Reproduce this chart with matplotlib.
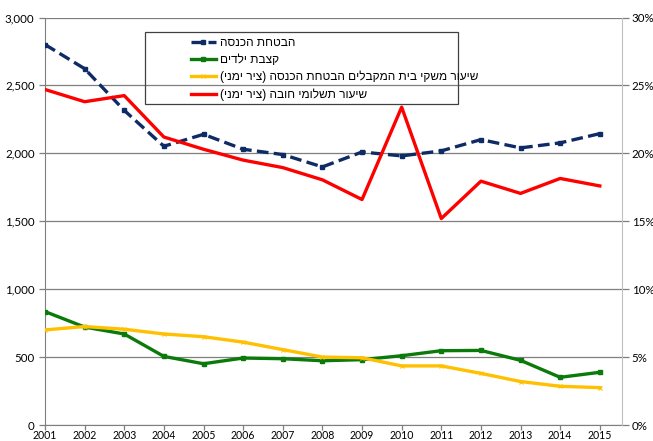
import numpy as np
import matplotlib
matplotlib.use('Agg')
import matplotlib.pyplot as plt
from matplotlib.ticker import FuncFormatter, PercentFormatter
from matplotlib.patches import Rectangle

# data
years = list(range(2001, 2016))
income_support = [2801, 2623, 2316, 2052, 2140, 2030, 1991, 1900, 2010, 1981, 2018, 2101, 2040, 2077, 2145]
child_allowance = [835, 721, 670, 505, 451, 493, 488, 473, 481, 510, 547, 549, 476, 351, 388]
share_households = [7.0, 7.25, 7.05, 6.7, 6.5, 6.1, 5.55, 5.0, 4.95, 4.35, 4.35, 3.8, 3.2, 2.85, 2.75]
share_mandatory = [24.7, 23.8, 24.25, 21.2, 20.3, 19.5, 18.95, 18.05, 16.6, 23.4, 15.2, 17.95, 17.05, 18.15, 17.6]

labels = ['הבטחת הכנסה',
          'קצבת ילדים',
          'שיעור משקי בית המקבלים הבטחת הכנסה (ציר ימני)',
          'שיעור תשלומי חובה (ציר ימני)']


def heb(s):
    # matplotlib has no bidi support: flip to visual order, mirror brackets
    return s[::-1].translate(str.maketrans('()', ')('))


plt.rcParams['font.family'] = ['Liberation Sans', 'DejaVu Sans']

W, H = 653, 441
fig = plt.figure(figsize=(W / 100, H / 100), dpi=100)
ax = fig.add_axes([45 / W, 1 - 425 / H, (622 - 45) / W, (425 - 17.5) / H])
ax2 = ax.twinx()

l1, = ax.plot(years, income_support, color='#0F2B66', lw=2.4, ls=(0, (3.5, 1.6)),
              marker='s', ms=3.5, zorder=3)
l2, = ax.plot(years, child_allowance, color='#0A7A0A', lw=2.4, marker='s', ms=3.5, zorder=3)
l3, = ax2.plot(years, share_households, color='#FFC000', lw=2.4, marker='x', ms=3, mew=0.8)
l4, = ax2.plot(years, share_mandatory, color='#FF0000', lw=2.4)

ax.set_xlim(2001, 2015.56)
ax.set_ylim(0, 3000)
ax2.set_ylim(0, 30)
ax.set_xticks(years)
ax.set_yticks(np.arange(0, 3001, 500))
ax2.set_yticks(np.arange(0, 31, 5))
ax.yaxis.set_major_formatter(FuncFormatter(lambda v, p: f'{v:,.0f}'))
ax2.yaxis.set_major_formatter(PercentFormatter(decimals=0))

ax.grid(axis='y', color='#7F7F7F', lw=0.9)
ax.set_axisbelow(True)
for a in (ax, ax2):
    a.spines['top'].set_visible(False)
ax.spines['left'].set_color('#7F7F7F')
ax.spines['bottom'].set_color('#7F7F7F')
ax.spines['right'].set_visible(False)
ax2.spines['left'].set_visible(False)
ax2.spines['bottom'].set_visible(False)
ax2.spines['right'].set_color('#BFBFBF')

ax.tick_params(axis='x', colors='#7F7F7F', length=3.5, width=0.9, labelcolor='black', pad=0)
ax.tick_params(axis='y', colors='#7F7F7F', length=4, width=0.9, labelcolor='black')
ax2.tick_params(axis='y', colors='#7F7F7F', length=5, width=0.9, labelcolor='black', pad=2)
for t in ax.get_xticklabels():
    t.set_fontfamily('Lato')
    t.set_fontsize(7.6)
for t in ax.get_yticklabels() + ax2.get_yticklabels():
    t.set_fontfamily('Lato')
    t.set_fontsize(8.3)

# legend box, entries right-aligned inside it
fig.patches.append(Rectangle((145 / W, 1 - 104 / H), (458 - 145) / W, 72 / H,
                             transform=fig.transFigure, fill=False, ec='#404040', lw=0.9))
fig.legend([l1, l2, l3, l4], [heb(s) for s in labels], loc='upper left',
           bbox_to_anchor=(180 / W, 1 - 26 / H), frameon=False, fontsize=8.6,
           handlelength=2.1, handletextpad=0.35, labelspacing=0.42)

fig.savefig('out.png', dpi=100)
